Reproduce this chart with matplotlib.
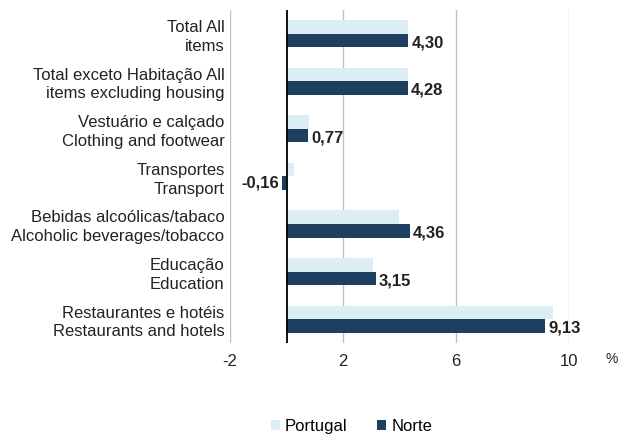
import numpy as np
import matplotlib
matplotlib.use('Agg')
import matplotlib.pyplot as plt

plt.rcParams['font.family'] = ['Liberation Sans', 'DejaVu Sans']

# Data
categories = ['Total All\nitems',
              'Total exceto Habitação All\nitems excluding housing',
              'Vestuário e calçado\nClothing and footwear',
              'Transportes\nTransport',
              'Bebidas alcoólicas/tabaco\nAlcoholic beverages/tobacco',
              'Educação\nEducation',
              'Restaurantes e hotéis\nRestaurants and hotels']
portugal = [4.31, 4.30, 0.78, 0.27, 3.99, 3.05, 9.43]
norte = [4.30, 4.28, 0.77, -0.16, 4.36, 3.15, 9.13]
norte_labels = ['4,30', '4,28', '0,77', '-0,16', '4,36', '3,15', '9,13']
xticks = [-2, 2, 6, 10]

c_pt = '#daeef3'
c_no = '#1f3f60'
fs = 12

fig = plt.figure(figsize=(6.22, 4.34), dpi=100)
ax = fig.add_axes([0.37, 0.21, 0.545, 0.767])

y = np.arange(len(categories))
h = 0.285
ax.barh(y - h / 2, portugal, height=h, color=c_pt, label='Portugal', zorder=2)
ax.barh(y + h / 2, norte, height=h, color=c_no, label='Norte', zorder=2)

for yi, v, lab in zip(y, norte, norte_labels):
    if v >= 0:
        ax.text(v + 0.12, yi + h / 2 + 0.05, lab, ha='left', va='center',
                fontsize=fs, fontweight='bold', color='#222222')
    else:
        ax.text(v - 0.12, yi + h / 2, lab, ha='right', va='center',
                fontsize=fs, fontweight='bold', color='#222222')

ax.set_xlim(-2, 10)
ax.set_ylim(len(categories) - 0.5, -0.5)
ax.set_xticks(xticks)
ax.set_xticklabels([str(t) for t in xticks], fontsize=fs, color='#222222')
ax.set_yticks(y)
ax.set_yticklabels(categories, fontsize=fs, color='#222222', linespacing=1.3)
ax.tick_params(axis='y', length=0, pad=4)
ax.tick_params(axis='x', length=0, pad=8)

ax.grid(axis='x', color='#c0c0c0', linewidth=1, zorder=0)
ax.axvline(0, color='black', linewidth=1.3, zorder=3)
for s in ['top', 'right', 'bottom', 'left']:
    ax.spines[s].set_visible(False)

fig.text(0.984, 0.163, '%', fontsize=10, color='#222222', ha='center')

fig.legend(loc='lower center', bbox_to_anchor=(0.565, -0.035), ncol=2, frameon=False,
           fontsize=fs, handlelength=0.55, handleheight=0.55, handletextpad=0.3,
           columnspacing=1.8)

fig.savefig('out.png', dpi=100)
